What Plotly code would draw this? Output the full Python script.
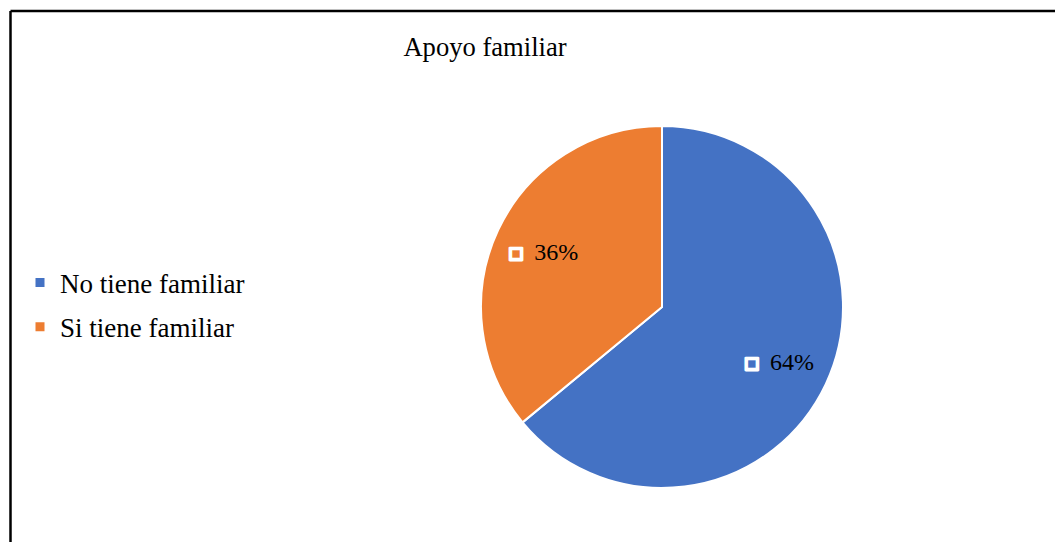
import plotly.graph_objects as go

# Data
categories = ["No tiene familiar", "Si tiene familiar"]
shares = [64, 36]
slice_colors = ["#4472C4", "#ED7D31"]
title_text = "Apoyo familiar"

W, H = 1055, 542
SERIF = "Liberation Serif, Times New Roman, serif"

# Pie centre (662, 307) px, radius 181 px
cx, cy, r = 662, 307, 181
pie_domain = dict(x=[(cx - r) / W, (cx + r) / W],
                  y=[(H - cy - r) / H, (H - cy + r) / H])

fig = go.Figure()

# Filled slices
fig.add_trace(go.Pie(
    labels=categories,
    values=shares,
    sort=False,
    direction="clockwise",
    rotation=0,
    marker=dict(colors=slice_colors, line=dict(color="white", width=2)),
    textinfo="none",
    hoverinfo="label+percent",
    showlegend=False,
    domain=pie_domain,
))

# Transparent ring on top that only carries the percentage labels,
# so they sit further out towards the rim of each slice
box = ('<span style="color:white;font-size:20px;stroke:white;'
       'stroke-width:2.8px">□</span>')
value_txt = ('<span style="font-family:\'Liberation Serif\',serif">'
             '%{percent:.0%}</span>')
fig.add_trace(go.Pie(
    labels=categories,
    values=shares,
    sort=False,
    direction="clockwise",
    rotation=0,
    hole=0.44,
    marker=dict(colors=["rgba(0,0,0,0)"] * len(categories),
                line=dict(width=0)),
    texttemplate=box + "  " + value_txt,
    textposition="inside",
    insidetextorientation="horizontal",
    textfont=dict(family=SERIF, size=24, color="black"),
    hoverinfo="skip",
    showlegend=False,
    domain=pie_domain,
))

# Legend entries, one per category
for name, col in zip(categories, slice_colors):
    fig.add_trace(go.Scatter(
        x=[None], y=[None], mode="markers", name=name,
        legendgroup=name,
        marker=dict(symbol="square", size=9, color=col),
    ))

fig.update_layout(
    width=W, height=H,
    margin=dict(l=0, r=0, t=0, b=0),
    paper_bgcolor="white",
    plot_bgcolor="white",
    xaxis=dict(visible=False),
    yaxis=dict(visible=False),
    title=dict(text=title_text, x=485 / W, xanchor="center",
               y=1 - 47 / H, yanchor="middle",
               font=dict(family=SERIF, size=26.6, color="black")),
    legend=dict(x=20 / W, xanchor="left", y=1 - 305 / H, yanchor="middle",
                font=dict(family=SERIF, size=27, color="black"),
                tracegroupgap=6, bgcolor="rgba(0,0,0,0)"),
    shapes=[
        dict(type="line", xref="paper", yref="paper",
             x0=10.5 / W, x1=1.05, y0=1 - 11 / H, y1=1 - 11 / H,
             line=dict(color="black", width=2.5)),
        dict(type="line", xref="paper", yref="paper",
             x0=10.5 / W, x1=10.5 / W, y0=-0.05, y1=1 - 11 / H,
             line=dict(color="black", width=2.5)),
    ],
)

fig.write_html("out.html")
